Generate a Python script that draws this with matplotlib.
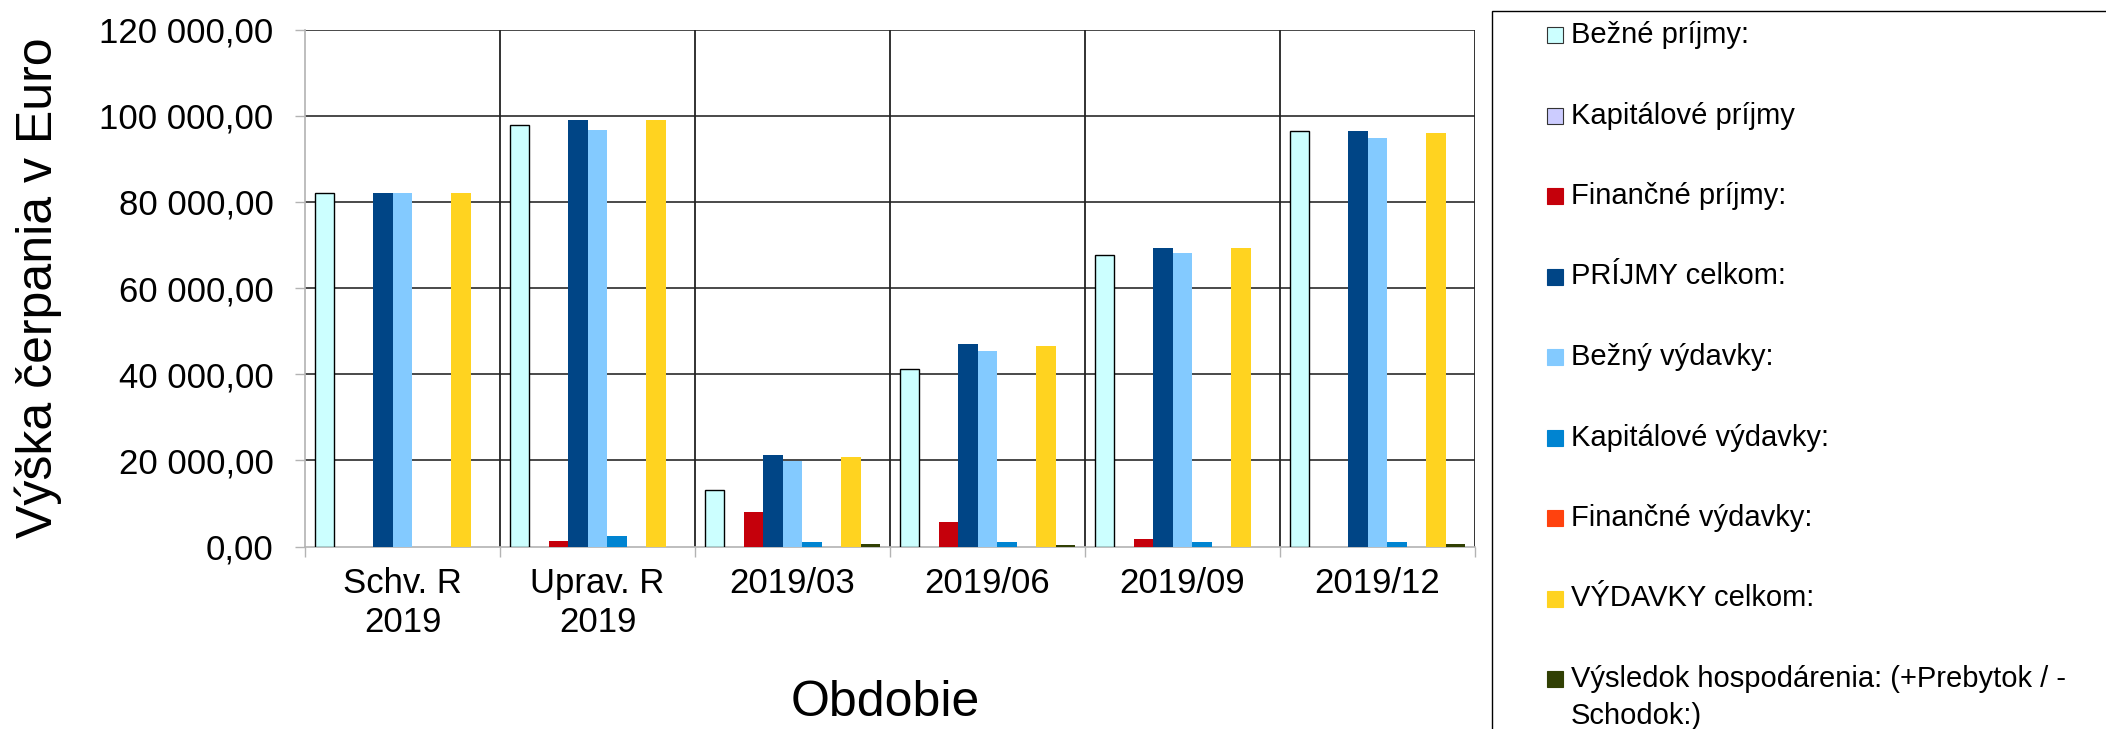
import numpy as np
import matplotlib
matplotlib.use('Agg')
import matplotlib.pyplot as plt
from matplotlib.patches import Rectangle
from matplotlib.ticker import FuncFormatter, FixedLocator

plt.rcParams['font.family'] = ['Liberation Sans', 'DejaVu Sans']

categories = ['Schv. R\n2019', 'Uprav. R\n2019', '2019/03', '2019/06', '2019/09', '2019/12']

bezne_prijmy = [82000, 97800, 13200, 41300, 67600, 96400]
kapitalove_prijmy = [0, 0, 0, 0, 0, 0]
financne_prijmy = [0, 1200, 8100, 5800, 1700, 0]
prijmy_celkom = [82000, 99000, 21300, 47000, 69200, 96400]
bezny_vydavky = [82000, 96700, 19800, 45500, 68100, 94900]
kapitalove_vydavky = [0, 2400, 1000, 1000, 1000, 1000]
financne_vydavky = [0, 0, 0, 0, 0, 0]
vydavky_celkom = [82000, 99000, 20800, 46600, 69200, 95900]
vysledok = [0, 0, 500, 400, 0, 500]

series_names = ['Bežné príjmy:', 'Kapitálové príjmy', 'Finančné príjmy:', 'PRÍJMY celkom:',
                'Bežný výdavky:', 'Kapitálové výdavky:', 'Finančné výdavky:', 'VÝDAVKY celkom:',
                'Výsledok hospodárenia: (+Prebytok / -\nSchodok:)']
series = [bezne_prijmy, kapitalove_prijmy, financne_prijmy, prijmy_celkom, bezny_vydavky,
          kapitalove_vydavky, financne_vydavky, vydavky_celkom, vysledok]
colors = ['#ccffff', '#ccccff', '#c5000b', '#004586', '#83caff',
          '#0084d1', '#ff420e', '#ffd320', '#314004']
edged = [True, True, False, False, False, False, False, False, False]

W, H = 2106, 729
fig = plt.figure(figsize=(W / 100, H / 100), dpi=100)
ax = fig.add_axes([305 / W, 1 - 546.6 / H, 1170 / W, (546.6 - 29.5) / H])

x = np.arange(len(categories))
bw = 0.1
for i, (vals, col) in enumerate(zip(series, colors)):
    if i == 0:
        ax.bar(x + (i - 4) * bw, vals, bw, color=col, edgecolor='black', linewidth=1.0, zorder=3)
    else:
        ax.bar(x + (i - 4) * bw, vals, bw, color=col, linewidth=0, zorder=3)

ax.set_xlim(-0.5, len(categories) - 0.5)
ax.set_ylim(0, 120000)
ax.set_yticks(np.arange(0, 120001, 20000))
ax.yaxis.set_major_formatter(FuncFormatter(lambda v, p: f'{v:,.2f}'.replace(',', ' ').replace('.', ',')))
ax.set_xticks(x)
ax.set_xticklabels(categories)
ax.xaxis.set_minor_locator(FixedLocator(np.arange(-0.5, len(categories), 1.0)))

ax.tick_params(axis='y', which='major', labelsize=25, length=7.2, width=1, color='#b3b3b3', pad=15.5)
ax.tick_params(axis='x', which='major', labelsize=25, length=0, pad=15)
ax.tick_params(axis='x', which='minor', length=7.2, width=1, color='#b3b3b3')

ax.set_axisbelow(True)
ax.grid(axis='y', color='#3a3a3a', linewidth=1.3)
ax.yaxis.get_gridlines()[0].set_visible(False)
ax.vlines(np.arange(0.5, len(categories), 1.0), 0, 120000, color='#222222', linewidth=1.3, zorder=1)

for s in ['top', 'right']:
    ax.spines[s].set_visible(False)
for s in ['left', 'bottom']:
    ax.spines[s].set_color('#b3b3b3')
    ax.spines[s].set_linewidth(1.2)

fig.text(38.5 / W, 1 - 288 / H, 'Výška čerpania v Euro', rotation=90, ha='center', va='center', fontsize=36)
fig.text(885 / W, 1 - 716 / H, 'Obdobie', ha='center', va='baseline', fontsize=36)

# legend box, runs off the right and bottom edge like in the original
fig.patches.append(Rectangle((1491.5 / W, -0.2), 1.0, 1.2 - 10.7 / H, transform=fig.transFigure,
                             facecolor='none', edgecolor='black', linewidth=1.0))
for i, (name, col) in enumerate(zip(series_names, colors)):
    cy = 35 + i * 80.5
    fig.patches.append(Rectangle((1547 / W, 1 - (cy + 8) / H), 16 / W, 16 / H, transform=fig.transFigure,
                                 facecolor=col, edgecolor='#333333' if edged[i] else col, linewidth=0.8))
    for j, line in enumerate(name.split('\n')):
        fig.text(1571 / W, 1 - (cy + 8 + j * 37) / H, line, ha='left', va='baseline', fontsize=21)

plt.savefig('out.png', dpi=100)
